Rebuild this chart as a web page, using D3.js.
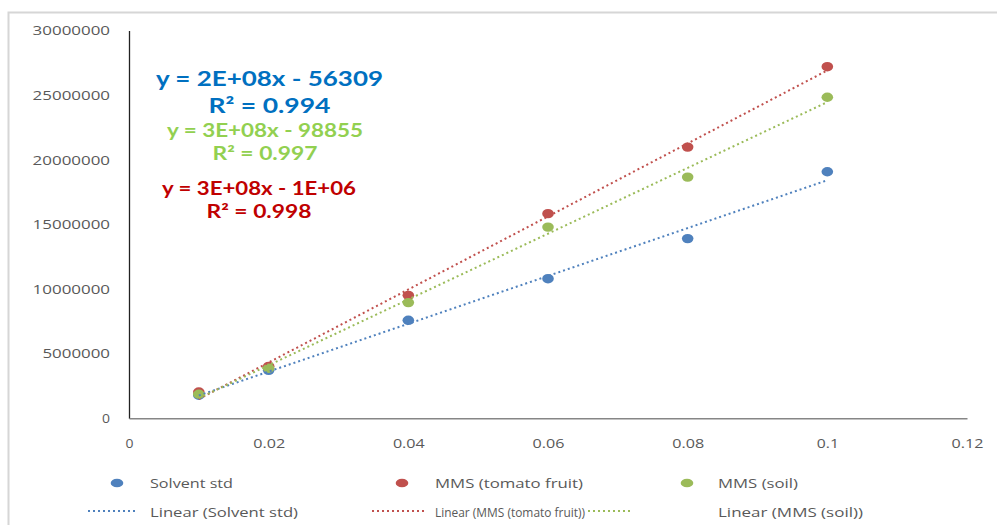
<!DOCTYPE html>
<html>
<head>
<meta charset="utf-8">
<script src="https://cdn.jsdelivr.net/npm/d3@7/dist/d3.min.js"></script>
<style>
  html, body { margin: 0; padding: 0; background: #fff; }
  svg { display: block; }
</style>
</head>
<body>
<svg id="chart" width="997" height="525"></svg>
<script>
// Concentration levels (x) and detector responses for each calibration set
const concentrations = [0.01, 0.02, 0.04, 0.06, 0.08, 0.1];
const solventStd   = [1780000, 3710000, 7580000, 10800000, 13900000, 19070000];
const mmsTomato    = [2030000, 4020000, 9510000, 15830000, 20980000, 27200000];
const mmsSoil      = [1860000, 3870000, 8950000, 14790000, 18660000, 24840000];

const seriesNames  = ["Solvent std", "MMS (tomato fruit)", "MMS (soil)"];
const trendNames   = ["Linear (Solvent std)", "Linear (MMS (tomato fruit))", "Linear (MMS (soil))"];
const equationText = [
  ["y = 2E+08x - 56309", "R\u00B2 = 0.994"],
  ["y = 3E+08x - 1E+06", "R\u00B2 = 0.998"],
  ["y = 3E+08x - 98855", "R\u00B2 = 0.997"]
];

const xTicks = [0, 0.02, 0.04, 0.06, 0.08, 0.1, 0.12];
const yTicks = [0, 5000000, 10000000, 15000000, 20000000, 25000000, 30000000];

const markerColors = ["#4F81BD", "#C0504D", "#9BBB59"];
const labelColors  = ["#0070C0", "#C00000", "#92D050"];

const svg = d3.select("#chart");

// outer chart frame (only the top and left edges fall inside the view)
svg.append("path")
  .attr("d", "M8.5,530 L8.5,12.5 L1000,12.5")
  .attr("fill", "none").attr("stroke", "#d6d6d6").attr("stroke-width", 2);

const x = d3.scaleLinear().domain([0, 0.12]).range([129, 967]);
const y = d3.scaleLinear().domain([0, 30000000]).range([418.3, 30.5]);

// approximate rendered width of a numeric label (wide, stretched digits)
function numWidth(s) {
  if (s.length === 1) return 8;
  let w = 0;
  for (const c of s) w += (c === ".") ? 3.5 : 9.8;
  return w - 1;
}

// y axis
const yAxis = svg.append("g")
  .attr("transform", `translate(${x(0)},0)`)
  .call(d3.axisLeft(y).tickValues(yTicks).tickSize(0).tickPadding(19).tickFormat(d3.format("d")));
yAxis.select(".domain").attr("stroke", "#222").attr("stroke-width", 1.3);
yAxis.selectAll("text")
  .attr("fill", "#595959")
  .attr("font-family", "'Open Sans', 'DejaVu Sans', sans-serif")
  .attr("font-size", 12)
  .attr("dy", "0.36em")
  .attr("textLength", d => numWidth(d3.format("d")(d)))
  .attr("lengthAdjust", "spacingAndGlyphs");

// x axis
const xAxis = svg.append("g")
  .attr("transform", `translate(0,${y(0)})`)
  .call(d3.axisBottom(x).tickValues(xTicks).tickSize(0).tickPadding(19).tickFormat(d => String(+d.toFixed(2))));
xAxis.select(".domain").attr("stroke", "#868686").attr("stroke-width", 1.5);
xAxis.selectAll("text")
  .attr("fill", "#595959")
  .attr("font-family", "'Open Sans', 'DejaVu Sans', sans-serif")
  .attr("font-size", 12)
  .attr("dy", "0.36em")
  .attr("y", 25)
  .attr("textLength", d => numWidth(String(+d.toFixed(2))))
  .attr("lengthAdjust", "spacingAndGlyphs");

const allSeries = [solventStd, mmsTomato, mmsSoil];

// data markers
allSeries.forEach((vals, i) => {
  svg.append("g").selectAll("ellipse")
    .data(vals.map((v, k) => [concentrations[k], v]))
    .join("ellipse")
    .attr("cx", d => x(d[0]))
    .attr("cy", d => y(d[1]))
    .attr("rx", 5.8).attr("ry", 4.7)
    .attr("fill", markerColors[i]);
});

// least-squares linear trend lines over the measured range
function linearFit(xs, ys) {
  const mx = d3.mean(xs), my = d3.mean(ys);
  let sxy = 0, sxx = 0;
  xs.forEach((xv, k) => { sxy += (xv - mx) * (ys[k] - my); sxx += (xv - mx) * (xv - mx); });
  const slope = sxy / sxx;
  return { slope, intercept: my - slope * mx };
}
const line = d3.line().x(d => x(d[0])).y(d => y(d[1]));
allSeries.forEach((vals, i) => {
  const fit = linearFit(concentrations, vals);
  const ends = d3.extent(concentrations).map(c => [c, fit.slope * c + fit.intercept]);
  svg.append("path")
    .attr("d", line(ends))
    .attr("fill", "none")
    .attr("stroke", markerColors[i])
    .attr("stroke-width", 2)
    .attr("stroke-dasharray", "2,3");
});

// trend line equations
const eqLayout = [
  { cx: 269.5, rows: [[78, 227, 21], [105, 122, 21]] },
  { cx: 259,   rows: [[189, 194, 18], [212, 105, 18]] },
  { cx: 265,   rows: [[131, 196, 18], [154, 105, 18]] }
];
equationText.forEach((lines, i) => {
  lines.forEach((t, r) => {
    const [cy, w, fs] = eqLayout[i].rows[r];
    svg.append("text")
      .attr("x", eqLayout[i].cx).attr("y", cy)
      .attr("dy", "0.36em")
      .attr("text-anchor", "middle")
      .attr("font-family", "Lato, 'Open Sans', sans-serif")
      .attr("font-weight", "bold")
      .attr("font-size", fs)
      .attr("fill", labelColors[i])
      .attr("textLength", w)
      .attr("lengthAdjust", "spacingAndGlyphs")
      .text(t);
  });
});

// legend
const legendFont = "'Open Sans', 'DejaVu Sans', sans-serif";
const legendItems = [
  { mx: 117, tx: 150, tw: 83 },
  { mx: 402, tx: 435, tw: 148 },
  { mx: 687, tx: 718, tw: 80 }
];
const trendLegend = [
  { x0: 88,  x1: 137, tx: 150, tw: 148 },
  { x0: 372, x1: 425, tx: 435, tw: 150 },
  { x0: 588, x1: 632, tx: 718, tw: 145 }
];
const leg = svg.append("g");
seriesNames.forEach((name, i) => {
  const it = legendItems[i];
  leg.append("ellipse")
    .attr("cx", it.mx).attr("cy", 483).attr("rx", 6.3).attr("ry", 4.3)
    .attr("fill", markerColors[i]);
  leg.append("text")
    .attr("x", it.tx).attr("y", 483).attr("dy", "0.36em")
    .attr("font-family", legendFont).attr("font-size", 13)
    .attr("fill", "#595959")
    .attr("textLength", it.tw).attr("lengthAdjust", "spacingAndGlyphs")
    .text(name);
});
trendNames.forEach((name, i) => {
  const it = trendLegend[i];
  leg.append("line")
    .attr("x1", it.x0).attr("x2", it.x1).attr("y1", 511).attr("y2", 511)
    .attr("stroke", markerColors[i]).attr("stroke-width", 2)
    .attr("stroke-dasharray", "2,3");
  leg.append("text")
    .attr("x", it.tx).attr("y", 512).attr("dy", "0.36em")
    .attr("font-family", legendFont).attr("font-size", 13)
    .attr("fill", "#595959")
    .attr("textLength", it.tw).attr("lengthAdjust", "spacingAndGlyphs")
    .text(name);
});
</script>
</body>
</html>
